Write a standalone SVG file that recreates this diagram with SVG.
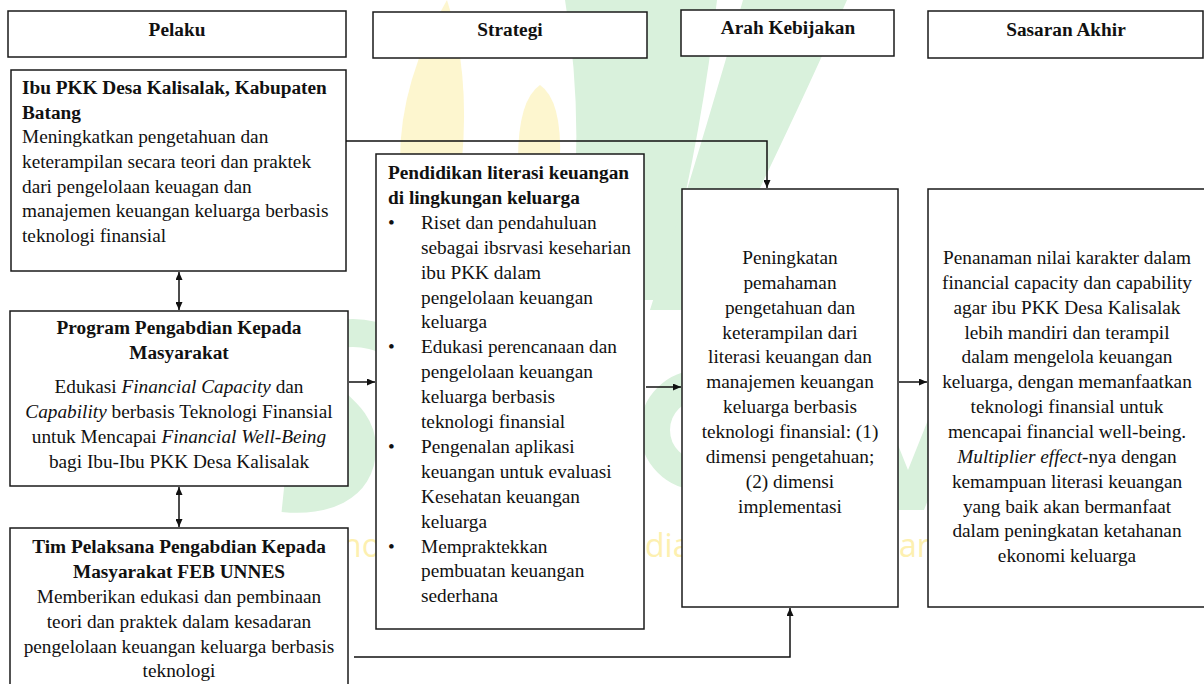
<svg xmlns="http://www.w3.org/2000/svg" width="1204" height="684" viewBox="0 0 1204 684">
<style>
  .box { fill: #ffffff; stroke: #1a1a1a; stroke-width: 1.5; }
  .t { font-family: "Liberation Serif", "Times New Roman", serif; font-size: 19.3px; fill: #111111; }
  .b { font-weight: bold; }
  .c { text-anchor: middle; }
  .i { font-style: italic; }
  .wire { fill: none; stroke: #111111; stroke-width: 1.5; }
  .wmg { fill: #d9f1dc; }
  .wmgs { fill: none; stroke: #d9f1dc; }
  .wmy { fill: #fdf6cf; }
  .wmt { font-family: "Open Sans", "Liberation Sans", sans-serif; font-size: 32px; fill: #fdf0b0; }
</style>
<defs>
  <marker id="ah" viewBox="0 0 10 10" refX="10" refY="5" markerWidth="8" markerHeight="7" orient="auto-start-reverse" markerUnits="userSpaceOnUse" preserveAspectRatio="none">
    <path d="M0,0 L10,5 L0,10 Z" fill="#111111"/>
  </marker>
</defs>
<rect width="1204" height="684" fill="#ffffff"/>

<g id="watermark">
  <path class="wmg" d="M565 0 L717 0 Q700 150 660 300 L560 300 Q590 150 565 0 Z"/>
  <path class="wmg" d="M743 0 L847 0 Q790 130 700 310 L650 310 Q700 150 743 0 Z"/>
  <path class="wmy" d="M447 0 Q400 80 400 160 L462 160 Q470 70 447 0 Z"/>
  <path class="wmy" d="M540 85 Q518 100 518 160 L560 160 Q562 100 540 85 Z"/>
  <path class="wmgs" stroke-width="28" d="M392 345 C375 328 312 326 310 360 C308 398 362 405 362 448 C362 490 322 502 283 498"/>
  <circle class="wmgs" stroke-width="30" cx="700" cy="430" r="45"/>
  <path class="wmg" d="M840 380 L872 380 L908 470 L944 380 L976 380 L924 510 L892 510 Z"/>
  <text class="wmt" x="342" y="557">no</text>
  <text class="wmt" x="645" y="557">dia</text>
  <text class="wmt" x="899" y="557">ar</text>
</g>

<g id="h-pelaku">
  <rect class="box" x="8" y="11" width="338" height="46"/>
  <text class="t b c" x="177" y="36">Pelaku</text>
</g>
<g id="h-strategi">
  <rect class="box" x="373" y="12" width="274" height="46"/>
  <text class="t b c" x="510" y="36">Strategi</text>
</g>
<g id="h-arah">
  <rect class="box" x="681" y="10" width="213" height="46"/>
  <text class="t b c" x="788" y="34">Arah Kebijakan</text>
</g>
<g id="h-sasaran">
  <rect class="box" x="928" y="11" width="275" height="47"/>
  <text class="t b c" x="1066" y="36">Sasaran Akhir</text>
</g>

<g id="n-ibu">
  <rect class="box" x="11" y="70" width="335" height="201"/>
  <text class="t b" x="22" y="94">Ibu PKK Desa Kalisalak, Kabupaten</text>
  <text class="t b" x="22" y="118.7">Batang</text>
  <text class="t" x="22" y="143.4">Meningkatkan pengetahuan dan</text>
  <text class="t" x="22" y="168">keterampilan secara teori dan praktek</text>
  <text class="t" x="22" y="192.7">dari pengelolaan keuagan dan</text>
  <text class="t" x="22" y="217.4">manajemen keuangan keluarga berbasis</text>
  <text class="t" x="22" y="242">teknologi finansial</text>
</g>

<g id="n-program">
  <rect class="box" x="10" y="311" width="338" height="175"/>
  <text class="t b c" x="179" y="334">Program Pengabdian Kepada</text>
  <text class="t b c" x="179" y="359">Masyarakat</text>
  <text class="t c" x="179" y="393">Edukasi <tspan class="i">Financial Capacity</tspan> dan</text>
  <text class="t c" x="179" y="418"><tspan class="i">Capability</tspan> berbasis Teknologi Finansial</text>
  <text class="t c" x="179" y="443">untuk Mencapai <tspan class="i">Financial Well-Being</tspan></text>
  <text class="t c" x="179" y="468">bagi Ibu-Ibu PKK Desa Kalisalak</text>
</g>

<g id="n-tim">
  <rect class="box" x="10" y="528" width="338" height="170"/>
  <text class="t b c" x="179" y="553">Tim Pelaksana Pengabdian Kepada</text>
  <text class="t b c" x="179" y="578">Masyarakat FEB UNNES</text>
  <text class="t c" x="179" y="603">Memberikan edukasi dan pembinaan</text>
  <text class="t c" x="179" y="628">teori dan praktek dalam kesadaran</text>
  <text class="t c" x="179" y="652.5">pengelolaan keuangan keluarga berbasis</text>
  <text class="t c" x="179" y="677">teknologi</text>
</g>

<g id="n-pendidikan">
  <rect class="box" x="376" y="154" width="268" height="475"/>
  <text class="t b" x="388" y="179">Pendidikan literasi keuangan</text>
  <text class="t b" x="388" y="203.9">di lingkungan keluarga</text>
  <text class="t" x="388" y="228.8">•</text>
  <text class="t" x="421" y="228.8">Riset dan pendahuluan</text>
  <text class="t" x="421" y="253.7">sebagai ibsrvasi keseharian</text>
  <text class="t" x="421" y="278.6">ibu PKK dalam</text>
  <text class="t" x="421" y="303.5">pengelolaan keuangan</text>
  <text class="t" x="421" y="328.4">keluarga</text>
  <text class="t" x="388" y="353.3">•</text>
  <text class="t" x="421" y="353.3">Edukasi perencanaan dan</text>
  <text class="t" x="421" y="378.2">pengelolaan keuangan</text>
  <text class="t" x="421" y="403.1">keluarga berbasis</text>
  <text class="t" x="421" y="428">teknologi finansial</text>
  <text class="t" x="388" y="452.9">•</text>
  <text class="t" x="421" y="452.9">Pengenalan aplikasi</text>
  <text class="t" x="421" y="477.8">keuangan untuk evaluasi</text>
  <text class="t" x="421" y="502.7">Kesehatan keuangan</text>
  <text class="t" x="421" y="527.6">keluarga</text>
  <text class="t" x="388" y="552.5">•</text>
  <text class="t" x="421" y="552.5">Mempraktekkan</text>
  <text class="t" x="421" y="577.4">pembuatan keuangan</text>
  <text class="t" x="421" y="602.3">sederhana</text>
</g>

<g id="n-peningkatan">
  <rect class="box" x="682" y="189" width="216" height="418"/>
  <text class="t c" x="790" y="264">Peningkatan</text>
  <text class="t c" x="790" y="288.85">pemahaman</text>
  <text class="t c" x="790" y="313.7">pengetahuan dan</text>
  <text class="t c" x="790" y="338.55">keterampilan dari</text>
  <text class="t c" x="790" y="363.4">literasi keuangan dan</text>
  <text class="t c" x="790" y="388.25">manajemen keuangan</text>
  <text class="t c" x="790" y="413.1">keluarga berbasis</text>
  <text class="t c" x="790" y="437.95">teknologi finansial: (1)</text>
  <text class="t c" x="790" y="462.8">dimensi pengetahuan;</text>
  <text class="t c" x="790" y="487.65">(2) dimensi</text>
  <text class="t c" x="790" y="512.5">implementasi</text>
</g>

<g id="n-penanaman">
  <rect class="box" x="928" y="189" width="278" height="418"/>
  <text class="t c" x="1067" y="264">Penanaman nilai karakter dalam</text>
  <text class="t c" x="1067" y="288.85">financial capacity dan capability</text>
  <text class="t c" x="1067" y="313.7">agar ibu PKK Desa Kalisalak</text>
  <text class="t c" x="1067" y="338.55">lebih mandiri dan terampil</text>
  <text class="t c" x="1067" y="363.4">dalam mengelola keuangan</text>
  <text class="t c" x="1067" y="388.25">keluarga, dengan memanfaatkan</text>
  <text class="t c" x="1067" y="413.1">teknologi finansial untuk</text>
  <text class="t c" x="1067" y="437.95">mencapai financial well-being.</text>
  <text class="t c" x="1067" y="462.8"><tspan class="i">Multiplier effect</tspan>-nya dengan</text>
  <text class="t c" x="1067" y="487.65">kemampuan literasi keuangan</text>
  <text class="t c" x="1067" y="512.5">yang baik akan bermanfaat</text>
  <text class="t c" x="1067" y="537.35">dalam peningkatan ketahanan</text>
  <text class="t c" x="1067" y="562.2">ekonomi keluarga</text>
</g>

<g id="connectors">
  <path class="wire" d="M346 141 L767 141 L767 188" marker-end="url(#ah)"/>
  <path class="wire" d="M179 272 L179 310" marker-start="url(#ah)" marker-end="url(#ah)"/>
  <path class="wire" d="M179 487 L179 527" marker-start="url(#ah)" marker-end="url(#ah)"/>
  <path class="wire" d="M349 382 L375 382" marker-end="url(#ah)"/>
  <path class="wire" d="M646 387 L681 387" marker-end="url(#ah)"/>
  <path class="wire" d="M899 382 L927 382" marker-end="url(#ah)"/>
  <path class="wire" d="M354 657 L790 657 L790 608" marker-end="url(#ah)"/>
</g>
</svg>
